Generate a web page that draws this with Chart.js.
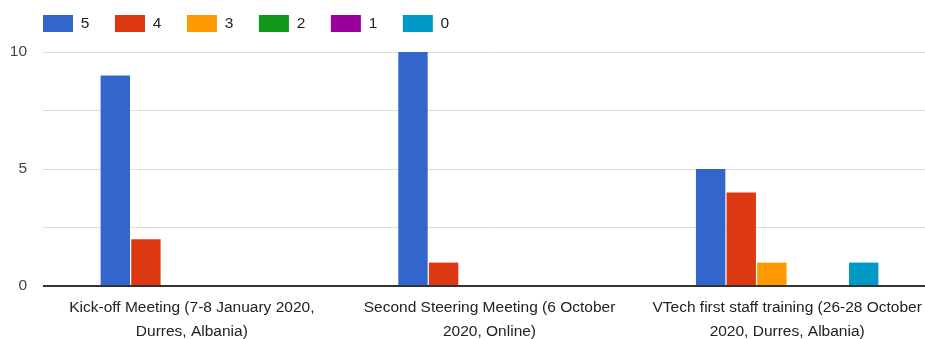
<!DOCTYPE html>
<html>
<head>
<meta charset="utf-8">
<style>
  html, body { margin: 0; padding: 0; background: #fff; overflow: hidden; width: 925px; height: 339px; }
  canvas { display: block; }
</style>
<script src="https://cdn.jsdelivr.net/npm/chart.js@4/dist/chart.umd.min.js"></script>
</head>
<body>
<canvas id="c" width="936" height="339"></canvas>
<script>
const categories = [
  ["Kick-off Meeting (7-8 January 2020,", "Durres, Albania)"],
  ["Second Steering Meeting (6 October", "2020, Online)"],
  ["VTech first staff training (26-28 October", "2020, Durres, Albania)"]
];
const seriesNames = ["5", "4", "3", "2", "1", "0"];
const series5 = [9, 10, 5];
const series4 = [2, 1, 4];
const series3 = [0, 0, 1];
const series2 = [0, 0, 0];
const series1 = [0, 0, 0];
const series0 = [0, 0, 1];
const yTickLabels = [0, 5, 10];

const colors = ["#3366cc", "#dc3912", "#ff9900", "#109618", "#990099", "#0099c6"];
const allSeries = [series5, series4, series3, series2, series1, series0];

const FONT = "'Liberation Sans', Arial, sans-serif";
const LEGEND_PAD = 25.6;

const datasets = allSeries.map((d, i) => ({
  label: seriesNames[i],
  data: d,
  backgroundColor: colors[i],
  borderWidth: 0,
  categoryPercentage: 0.617,
  barPercentage: 0.96
}));

const layoutPlugin = {
  id: 'layoutFix',
  beforeInit(chart) {
    const lg = chart.legend;
    if (lg) {
      const origFit = lg.fit.bind(lg);
      lg.fit = function () { origFit(); this.height = 52; };
    }
  },
  afterLayout(chart) {
    const lg = chart.legend;
    if (lg) {
      const dx = 43 - LEGEND_PAD;
      lg.left += dx; lg.right += dx;
      const dy = 15 - LEGEND_PAD - lg.top;
      lg.top += dy; lg.bottom += dy;
    }
  }
};

new Chart(document.getElementById('c'), {
  type: 'bar',
  data: { labels: categories, datasets },
  plugins: [layoutPlugin],
  options: {
    responsive: false,
    animation: false,
    layout: { padding: 0 },
    plugins: {
      legend: {
        position: 'top',
        align: 'start',
        labels: {
          boxWidth: 30,
          boxHeight: 17,
          padding: LEGEND_PAD,
          color: '#222',
          font: { family: FONT, size: 15.5 }
        }
      },
      tooltip: { enabled: false }
    },
    scales: {
      x: {
        grid: { display: false, drawTicks: false },
        border: { display: false },
        ticks: {
          color: '#222',
          padding: 9,
          maxRotation: 0,
          autoSkip: false,
          font: { family: FONT, size: 15.5, lineHeight: 1.6 }
        },
        afterFit(scale) { scale.height = 53; }
      },
      y: {
        min: 0,
        max: 10,
        border: { display: false },
        grid: {
          drawTicks: false,
          color: ctx => ctx.tick && ctx.tick.value === 0 ? '#333' : '#dcdcdc',
          lineWidth: ctx => ctx.tick && ctx.tick.value === 0 ? 2 : 1
        },
        ticks: {
          stepSize: 2.5,
          padding: 16,
          color: '#444',
          font: { family: FONT, size: 15.5 },
          callback: v => yTickLabels.includes(v) ? String(v) : ''
        },
        afterFit(scale) { scale.width = 43; }
      }
    }
  }
});
</script>
</body>
</html>
